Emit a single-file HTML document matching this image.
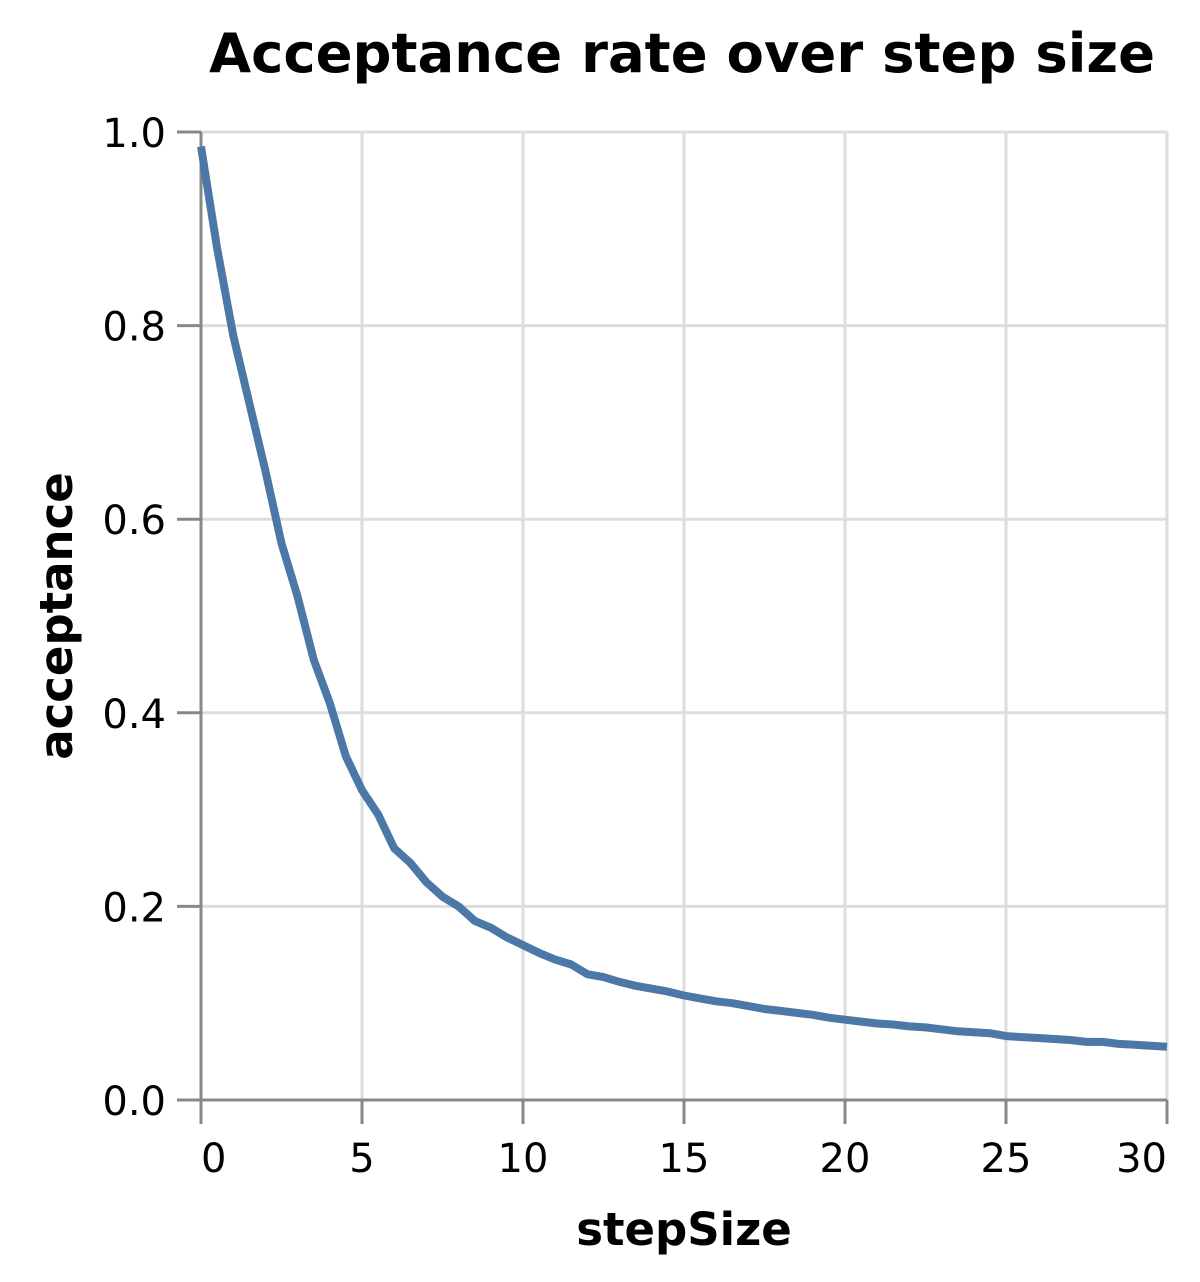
<!DOCTYPE html>
<html><head><meta charset="utf-8"><style>
body{margin:0;background:#fff}
svg text{font-family:"DejaVu Sans","Liberation Sans",sans-serif}
</style></head><body>
<svg id="chart" width="1200" height="1277" viewBox="0 0 1200 1277">
<g id="grid"></g>
<g id="axes"></g>
<path id="line" fill="none" stroke="#4c78a8" stroke-width="8" stroke-linejoin="round"></path>
<text x="682" y="72" text-anchor="middle" font-size="54" font-weight="bold" textLength="946" lengthAdjust="spacingAndGlyphs">Acceptance rate over step size</text>
<text x="684" y="1245" text-anchor="middle" font-size="45" font-weight="bold">stepSize</text>
<text transform="translate(72,616) rotate(-90)" text-anchor="middle" font-size="45" font-weight="bold">acceptance</text>
</svg>
<script>
const stepSize=[0,0.5,1,1.5,2,2.5,3,3.5,4,4.5,5,5.5,6,6.5,7,7.5,8,8.5,9,9.5,10,10.5,11,11.5,12,12.5,13,13.5,14,14.5,15,15.5,16,16.5,17,17.5,18,18.5,19,19.5,20,20.5,21,21.5,22,22.5,23,23.5,24,24.5,25,25.5,26,26.5,27,27.5,28,28.5,29,29.5,30];
const acceptance=[0.985,0.88,0.79,0.72,0.65,0.575,0.52,0.455,0.41,0.355,0.32,0.295,0.26,0.245,0.225,0.21,0.2,0.185,0.178,0.168,0.16,0.152,0.145,0.14,0.13,0.127,0.122,0.118,0.115,0.112,0.108,0.105,0.102,0.1,0.097,0.094,0.092,0.09,0.088,0.085,0.083,0.081,0.079,0.078,0.076,0.075,0.073,0.071,0.07,0.069,0.066,0.065,0.064,0.063,0.062,0.06,0.06,0.058,0.057,0.056,0.055];
const xTicks=[0,5,10,15,20,25,30];
const yTicks=[0,0.2,0.4,0.6,0.8,1.0];
const X0=201,X1=1167,Y0=1100,Y1=132;
const xs=v=>X0+(v-0)/30*(X1-X0);
const ys=v=>Y0-v*(Y0-Y1);
const NS="http://www.w3.org/2000/svg";
const grid=document.getElementById('grid'),axes=document.getElementById('axes');
function mk(tag,attrs,parent){const e=document.createElementNS(NS,tag);for(const k in attrs)e.setAttribute(k,attrs[k]);parent.appendChild(e);return e;}
xTicks.forEach((t,i)=>{
  const g=mk('line',{x1:xs(t),x2:xs(t),y1:Y1,y2:Y0,stroke:'#ddd','stroke-width':3},grid);
  
  
  const tk=mk('line',{x1:xs(t),x2:xs(t),y1:Y0,y2:Y0+24,stroke:'#888','stroke-width':3},axes);
  
  
  const anchor=i===0?'start':(i===xTicks.length-1?'end':'middle');
  const lb=mk('text',{x:xs(t),y:1172,'text-anchor':anchor,'font-size':40},axes);
  lb.textContent=String(t);
  
  
});
yTicks.forEach((t,i)=>{
  const g=mk('line',{x1:X0,x2:X1,y1:ys(t),y2:ys(t),stroke:'#ddd','stroke-width':3},grid);
  
  
  const tk=mk('line',{x1:X0-24,x2:X0,y1:ys(t),y2:ys(t),stroke:'#888','stroke-width':3},axes);
  
  
  const lb=mk('text',{x:166,y:ys(t)+15,'text-anchor':'end','font-size':40},axes);
  lb.textContent=t.toFixed(1);
  
  
});
const xa=mk('line',{x1:X0,x2:X1,y1:Y0,y2:Y0,stroke:'#888','stroke-width':3},axes);


const ya=mk('line',{x1:X0,x2:X0,y1:Y1,y2:Y0,stroke:'#888','stroke-width':3},axes);


document.getElementById('line').setAttribute('d',stepSize.map((s,i)=>(i?'L':'M')+xs(s).toFixed(1)+','+ys(acceptance[i]).toFixed(1)).join(''));
</script>
</body></html>
